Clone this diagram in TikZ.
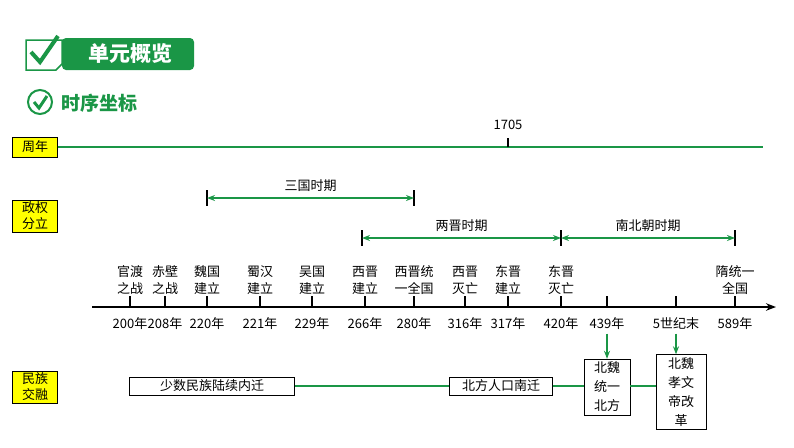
\documentclass[tikz,border=0pt]{standalone}
\usepackage{fontspec}
\setmainfont{Noto Sans CJK SC}
\usetikzlibrary{arrows.meta}
\definecolor{gr}{RGB}{26,150,70}
\definecolor{yl}{RGB}{255,255,0}
\tikzset{
 lab/.style={draw=black,fill=yl,font=\fontsize{13}{16}\selectfont,inner sep=2pt,align=center,minimum width=45pt,minimum height=20pt},
 ev/.style={font=\fontsize{13}{17}\selectfont,align=center,anchor=south,inner sep=1pt},
 yr/.style={font=\fontsize{13}{15}\selectfont,anchor=center},
 bx/.style={draw=black,fill=white,font=\fontsize{13}{17}\selectfont,align=center,inner sep=3pt},
 gl/.style={gr,line width=2pt},
 ga/.style={gr,line width=2pt,{Stealth[length=8pt]}-{Stealth[length=8pt]}},
 gd/.style={gr,line width=2pt,-{Stealth[length=8pt]}},
}
\begin{document}
\begin{tikzpicture}[x=1pt,y=-1pt]
\useasboundingbox (0,0) rectangle (794,447);
% header
\node[fill=gr,rounded corners=4pt,minimum width=132pt,minimum height=32pt,text=white,font=\bfseries\fontsize{21}{22}\selectfont] (hd) at (128,54) {\ 单元概览};
\draw[gr,line width=1.5pt,fill=white] (26,40) -- (62,40) -- (62,64) -- (56,70) -- (26,70) -- cycle;
\draw[gr,line width=4pt] (31,52) -- (40,62) -- (58,36);
\draw[gr,line width=2pt] (40,102) circle (12);
\draw[gr,line width=3pt] (34,102) -- (39,108) -- (47,96);
\node[anchor=west,text=gr,font=\bfseries\fontsize{19}{20}\selectfont] (sx) at (58,103) {时序坐标};
% row labels
\node[lab] (zn) at (35,147) {周年};
\node[lab] (zq) at (35,216) {政权\\分立};
\node[lab] (mz) at (35,387) {民族\\交融};
% year line
\coordinate (ze) at (763,147);
\draw[gl] (zn.east) -- (ze);
\coordinate (t1705) at (508,147);
\draw[black,line width=1.5pt] (t1705) -- ++(0,-9);
\node[yr] (l1705) at (508,125) {1705};
% periods
\foreach \a/\b/\y/\t/\n in {207/414/198/三国时期/sg,362/561/238/两晋时期/lj,561/735/238/南北朝时期/nb}{
  \coordinate (\n a) at (\a,\y); \coordinate (\n b) at (\b,\y);
  \draw[black,line width=1.5pt] (\a,\y-8) -- (\a,\y+8) (\b,\y-8) -- (\b,\y+8);
  \draw[ga] (\n a) -- (\n b);
  \node[font=\fontsize{13}{15}\selectfont] (\n t) at ({(\a+\b)/2},\y-12) {\t};
}
% axis
\coordinate (ax0) at (92,307); \coordinate (ax1) at (776,307);
\draw[black,line width=2.5pt,-{Stealth[length=10pt]}] (ax0) -- (ax1);
\foreach \x/\e/\yv/\n in {130/官渡\\之战/200年/a,165/赤壁\\之战/208年/b,207/魏国\\建立/220年/c,260/蜀汉\\建立/221年/d,312/吴国\\建立/229年/e,365/西晋\\建立/266年/f,414/西晋统\\一全国/280年/g,465/西晋\\灭亡/316年/h,508/东晋\\建立/317年/i,561/东晋\\灭亡/420年/j,607//439年/k,676//5世纪末/l,735/隋统一\\全国/589年/m}{
  \draw[black,line width=1.5pt] (\x,307) -- (\x,296);
  \node[ev] (e\n) at (\x,296) {\e};
  \node[yr] (y\n) at (\x,324) {\yv};
}
% bottom
\node[bx,minimum width=165pt] (b1) at (212,386) {少数民族陆续内迁};
\node[bx,minimum width=103pt] (b2) at (501,386) {北方人口南迁};
\node[bx,minimum width=46pt,font=\fontsize{13}{19}\selectfont] (b3) at (607,387) {北魏\\统一\\北方};
\node[bx,minimum width=50pt,font=\fontsize{13}{19}\selectfont] (b4) at (681,392) {北魏\\孝文\\帝改\\革};
\draw[gl] (b1) -- (b2);
\draw[gl] (b2) -- (b3.west|-b2);
\draw[gl] (b3.east|-b2) -- (b4.west|-b2);
\draw[gd] (yk.south) -- (yk.south|-b3.north);
\draw[gd] (yl.south) -- (yl.south|-b4.north);
\end{tikzpicture}
\end{document}
